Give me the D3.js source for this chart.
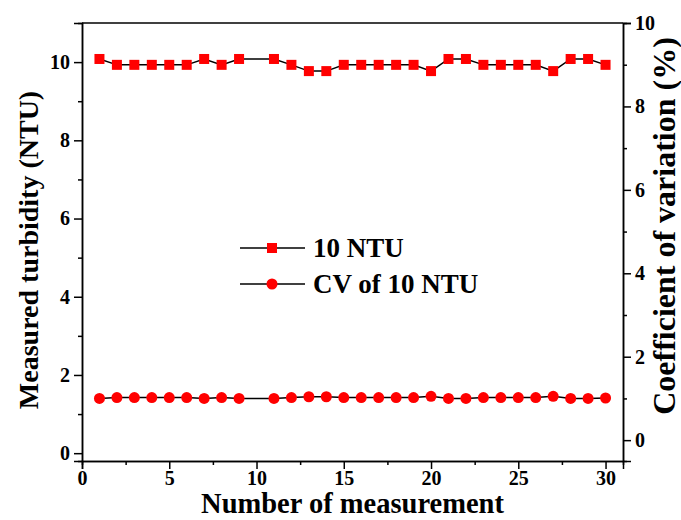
<!DOCTYPE html>
<html>
<head>
<meta charset="utf-8">
<script src="https://cdn.jsdelivr.net/npm/d3@7"></script>
<style>
  body { margin: 0; background: #fff; }
  text { font-family: "Liberation Serif", "Times New Roman", serif; font-weight: bold; fill: #000; }
</style>
</head>
<body>
<script>
// measurement number 1..30 (point 10 has no marker)
var runs = d3.range(1, 31);
var turbidity = [10.08, 9.93, 9.93, 9.93, 9.93, 9.93, 10.08, 9.93, 10.08, null,
  10.08, 9.93, 9.77, 9.77, 9.93, 9.93, 9.93, 9.93, 9.93, 9.77,
  10.08, 10.08, 9.93, 9.93, 9.93, 9.93, 9.77, 10.08, 10.08, 9.93];
var cv = [1.00, 1.02, 1.02, 1.02, 1.02, 1.02, 1.00, 1.02, 1.00, null,
  1.00, 1.02, 1.04, 1.04, 1.02, 1.02, 1.02, 1.02, 1.02, 1.05,
  1.00, 1.00, 1.02, 1.02, 1.02, 1.02, 1.05, 1.00, 1.00, 1.01];
var xTicks = [0, 5, 10, 15, 20, 25, 30];
var yLeftTicks = [0, 2, 4, 6, 8, 10];
var yRightTicks = [0, 2, 4, 6, 8, 10];
var legendNames = ["10 NTU", "CV of 10 NTU"];

var margin = { top: 23, right: 58, bottom: 59, left: 82 },
  width = 681 - margin.left - margin.right,
  height = 520 - margin.top - margin.bottom;

var x = d3.scaleLinear().domain([0, 31]).range([0, width]);
var yL = d3.scaleLinear().domain([-0.2, 11]).range([height, 0]);
var yR = d3.scaleLinear().domain([-0.5, 10]).range([height, 0]);

var svg = d3.select("body").append("svg")
  .attr("width", 681)
  .attr("height", 520);
var chart = svg.append("g")
  .attr("transform", "translate(" + margin.left + "," + margin.top + ")");

// frame top line
chart.append("line")
  .attr("x1", 0).attr("x2", width).attr("y1", 0).attr("y2", 0)
  .style("stroke", "#000").style("stroke-width", 1.5);

function styleAxis(g) {
  g.attr("font-family", null);
  g.select(".domain").style("stroke", "#000").style("stroke-width", 1.5);
  g.selectAll(".tick line").style("stroke", "#000").style("stroke-width", 1.5);
  g.selectAll(".tick text")
    .style("font-size", "20px")
    .style("font-family", "'Liberation Serif', serif")
    .style("font-weight", "bold");
}

// minor ticks
chart.append("g")
  .attr("transform", "translate(0," + height + ")")
  .call(d3.axisBottom(x).tickValues(d3.range(2.5, 31, 5)).tickSize(4).tickFormat(""))
  .call(styleAxis);
chart.append("g")
  .call(d3.axisLeft(yL).tickValues([1, 3, 5, 7, 9]).tickSize(4).tickFormat(""))
  .call(styleAxis);
chart.append("g")
  .attr("transform", "translate(" + width + ",0)")
  .call(d3.axisRight(yR).tickValues([1, 3, 5, 7, 9]).tickSize(4).tickFormat(""))
  .call(styleAxis);

// major ticks
chart.append("g")
  .attr("transform", "translate(0," + height + ")")
  .call(d3.axisBottom(x).tickValues(xTicks).tickSize(8).tickPadding(2))
  .call(styleAxis);
chart.append("g")
  .call(d3.axisLeft(yL).tickValues(yLeftTicks).tickSize(8).tickPadding(4))
  .call(styleAxis);
chart.append("g")
  .attr("transform", "translate(" + width + ",0)")
  .call(d3.axisRight(yR).tickValues(yRightTicks).tickSize(8).tickPadding(4))
  .call(styleAxis);

// axis titles
svg.append("text")
  .attr("x", margin.left + width / 2)
  .attr("y", 513)
  .attr("text-anchor", "middle")
  .style("font-size", "28.5px")
  .text("Number of measurement");
svg.append("text")
  .attr("transform", "translate(38,250) rotate(-90)")
  .attr("text-anchor", "middle")
  .style("font-size", "28px")
  .text("Measured turbidity (NTU)");
svg.append("text")
  .attr("transform", "translate(675,226) rotate(-90)")
  .attr("text-anchor", "middle")
  .style("font-size", "32px")
  .text("Coefficient of variation (%)");

var turbData = runs.map(function (r, i) { return { x: r, y: turbidity[i] }; })
  .filter(function (d) { return d.y !== null; });
var cvData = runs.map(function (r, i) { return { x: r, y: cv[i] }; })
  .filter(function (d) { return d.y !== null; });

var lineL = d3.line().x(function (d) { return x(d.x); }).y(function (d) { return yL(d.y); });
var lineR = d3.line().x(function (d) { return x(d.x); }).y(function (d) { return yR(d.y); });

chart.append("path").datum(turbData)
  .attr("d", lineL)
  .style("fill", "none").style("stroke", "#000").style("stroke-width", 1.5);
chart.append("path").datum(cvData)
  .attr("d", lineR)
  .style("fill", "none").style("stroke", "#000").style("stroke-width", 1.5);

var sq = 10;
chart.selectAll(".sq").data(turbData).enter().append("rect")
  .attr("class", "sq")
  .attr("x", function (d) { return x(d.x) - sq / 2; })
  .attr("y", function (d) { return yL(d.y) - sq / 2; })
  .attr("width", sq).attr("height", sq)
  .style("fill", "#ff0000");
chart.selectAll(".dot").data(cvData).enter().append("circle")
  .attr("class", "dot")
  .attr("cx", function (d) { return x(d.x); })
  .attr("cy", function (d) { return yR(d.y); })
  .attr("r", 5.5)
  .style("fill", "#ff0000");

// legend
var legend = svg.selectAll(".legend")
  .data(legendNames)
  .enter().append("g")
  .attr("class", "legend")
  .attr("transform", function (d, i) { return "translate(240," + (248 + i * 36) + ")"; });
legend.append("line")
  .attr("x1", 0).attr("x2", 65).attr("y1", 0).attr("y2", 0)
  .style("stroke", "#000").style("stroke-width", 1.5);
legend.each(function (d, i) {
  var g = d3.select(this);
  if (i === 0) {
    g.append("rect").attr("x", 32 - sq / 2).attr("y", -sq / 2)
      .attr("width", sq).attr("height", sq).style("fill", "#ff0000");
  } else {
    g.append("circle").attr("cx", 32).attr("cy", 0).attr("r", 5.5).style("fill", "#ff0000");
  }
});
legend.append("text")
  .attr("x", 73)
  .attr("y", 0)
  .attr("dy", ".35em")
  .style("font-size", "27px")
  .text(function (d) { return d; });
</script>
</body>
</html>
